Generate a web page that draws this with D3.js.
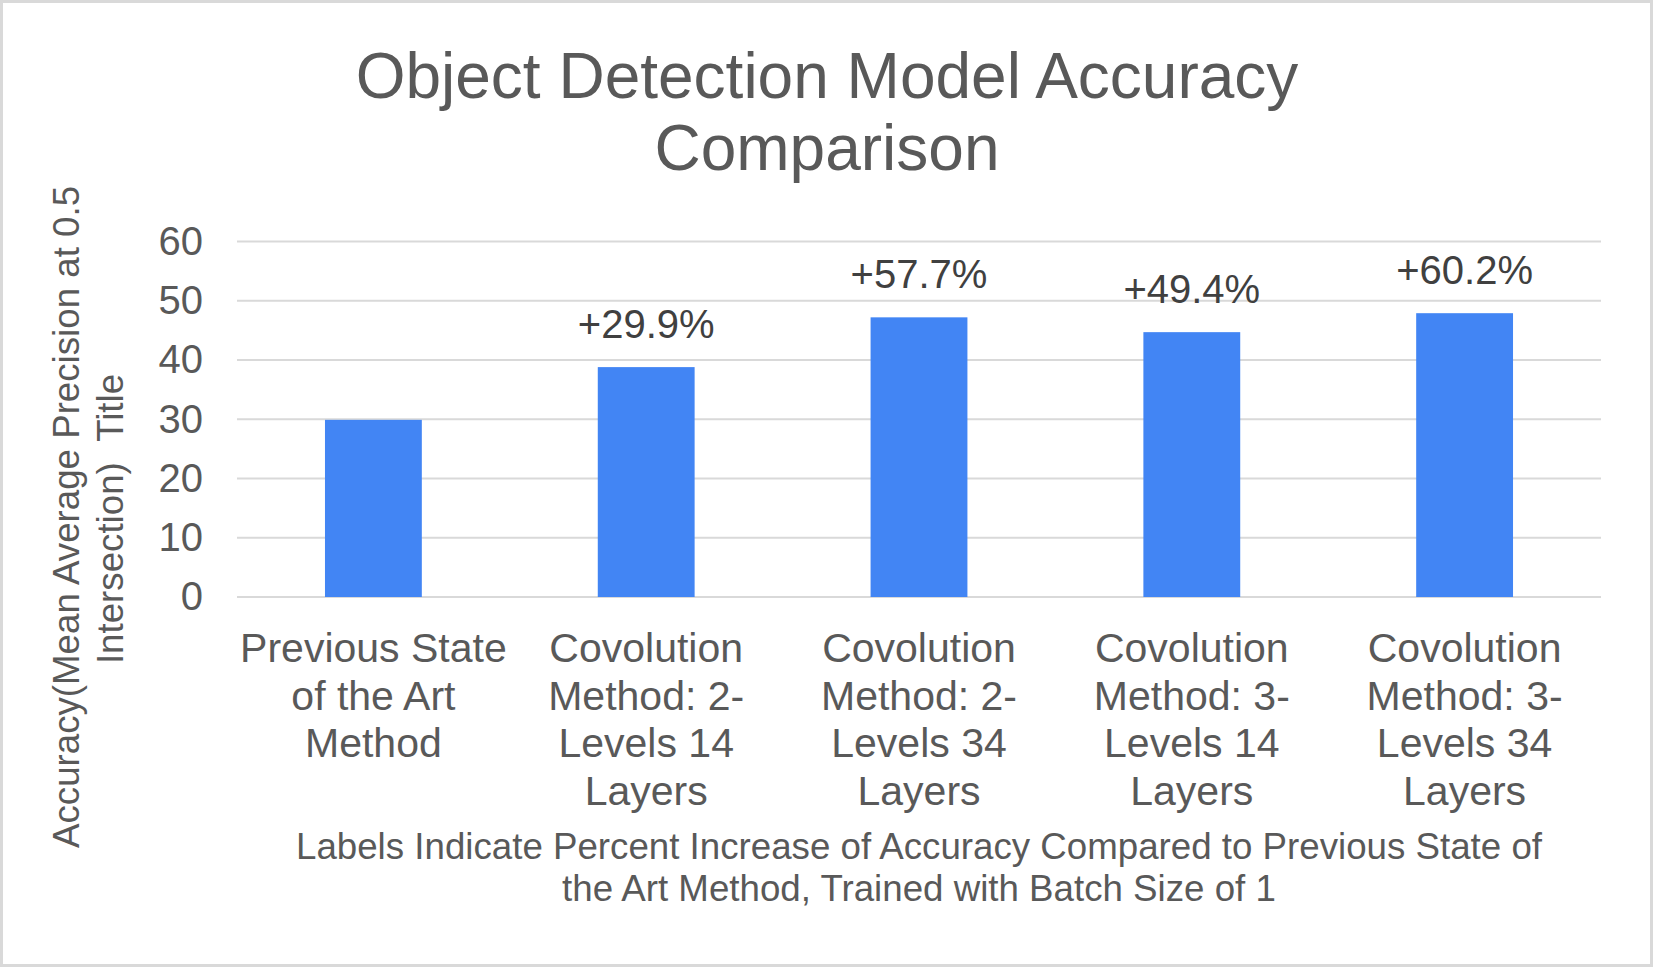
<!DOCTYPE html>
<html>
<head>
<meta charset="utf-8">
<script src="https://cdn.jsdelivr.net/npm/d3@7"></script>
<style>
    body { margin: 0; background: #fff; }
    text { font-family: "Liberation Sans", Arial, sans-serif; }
</style>
</head>
<body>
<script>
// chart values
var categories = [
    ['Previous State', 'of the Art', 'Method'],
    ['Covolution', 'Method: 2-', 'Levels 14', 'Layers'],
    ['Covolution', 'Method: 2-', 'Levels 34', 'Layers'],
    ['Covolution', 'Method: 3-', 'Levels 14', 'Layers'],
    ['Covolution', 'Method: 3-', 'Levels 34', 'Layers']
];
var values = [29.9, 38.8, 47.2, 44.7, 47.9];
var barLabels = ['', '+29.9%', '+57.7%', '+49.4%', '+60.2%'];
var yTicks = [0, 10, 20, 30, 40, 50, 60];

var titleLines = ['Object Detection Model Accuracy', 'Comparison'];
var xTitleLines = [
    'Labels Indicate Percent Increase of Accuracy Compared to Previous State of',
    'the Art Method, Trained with Batch Size of 1'
];
var yTitleLines = ['Accuracy(Mean Average Precision at 0.5', 'Intersection)\u00a0\u00a0Title'];

// colours
var colorBar = '#4285f4',
    colorText = '#595959',
    colorLabel = '#404040',
    colorGrid = '#d9d9d9';

var width = 1653,
    height = 967;

var svg = d3.select('body')
    .append('svg')
    .attr('width', width)
    .attr('height', height);

// frame
svg.append('rect')
    .attr('x', 1.5)
    .attr('y', 1.5)
    .attr('width', width - 3)
    .attr('height', height - 3)
    .attr('fill', 'white')
    .attr('stroke', colorGrid)
    .attr('stroke-width', 3);

// scales
var x = d3.scaleBand()
    .domain(d3.range(categories.length))
    .range([237, 1601])
    .paddingInner(0.645)
    .paddingOuter(0.3225);

var y = d3.scaleLinear()
    .domain([0, 60])
    .range([597, 241.5]);

// gridlines
svg.append('g').selectAll('line').data(yTicks).enter()
    .append('line')
    .attr('x1', 237)
    .attr('x2', 1601)
    .attr('y1', function (d) { return y(d) })
    .attr('y2', function (d) { return y(d) })
    .attr('stroke', colorGrid)
    .attr('stroke-width', 2);

// y axis tick labels
var yAxis = d3.axisLeft(y).tickValues(yTicks).tickSize(0).tickPadding(0);
var gy = svg.append('g')
    .attr('transform', 'translate(203,0)')
    .call(yAxis);
gy.select('.domain').remove();
gy.selectAll('text')
    .attr('fill', colorText)
    .attr('font-size', 40)
    .attr('font-family', '"Liberation Sans", Arial, sans-serif');

// bars
svg.append('g').selectAll('rect').data(values).enter()
    .append('rect')
    .attr('x', function (d, i) { return x(i) })
    .attr('y', function (d) { return y(d) })
    .attr('width', x.bandwidth())
    .attr('height', function (d) { return y(0) - y(d) })
    .attr('fill', colorBar);

// data labels
svg.append('g').selectAll('text').data(values).enter()
    .append('text')
    .attr('x', function (d, i) { return x(i) + x.bandwidth() / 2 })
    .attr('y', function (d) { return y(d) - 29 })
    .attr('text-anchor', 'middle')
    .attr('font-size', 40)
    .attr('fill', colorLabel)
    .text(function (d, i) { return barLabels[i] });

// category labels
var cat = svg.append('g').selectAll('text').data(categories).enter()
    .append('text')
    .attr('text-anchor', 'middle')
    .attr('font-size', 41)
    .attr('fill', colorText);
cat.selectAll('tspan').data(function (d, i) {
        return d.map(function (t) { return { t: t, i: i } });
    }).enter()
    .append('tspan')
    .attr('x', function (d) { return x(d.i) + x.bandwidth() / 2 })
    .attr('y', function (d, j) { return 662 + j * 47.5 })
    .text(function (d) { return d.t });

// chart title
svg.append('g').selectAll('text').data(titleLines).enter()
    .append('text')
    .attr('x', 827)
    .attr('y', function (d, i) { return 98 + i * 72 })
    .attr('text-anchor', 'middle')
    .attr('font-size', 64)
    .attr('fill', colorText)
    .text(function (d) { return d });

// x axis title
svg.append('g').selectAll('text').data(xTitleLines).enter()
    .append('text')
    .attr('x', 919)
    .attr('y', function (d, i) { return 859 + i * 42 })
    .attr('text-anchor', 'middle')
    .attr('font-size', 36.7)
    .attr('fill', colorText)
    .text(function (d) { return d });

// y axis title
svg.append('g').selectAll('text').data(yTitleLines).enter()
    .append('text')
    .attr('transform', function (d, i) {
        return 'translate(' + (79 + i * 43.7) + ',' + (517 + i * 2) + ') rotate(-90)'
    })
    .attr('text-anchor', 'middle')
    .attr('font-size', 36.7)
    .attr('fill', colorText)
    .text(function (d) { return d });
</script>
</body>
</html>
